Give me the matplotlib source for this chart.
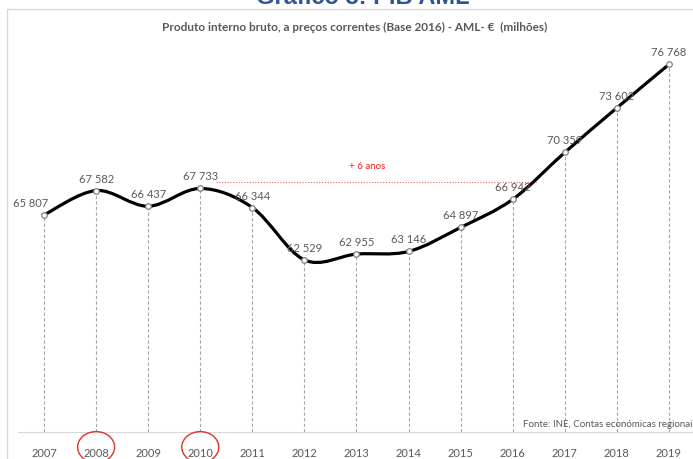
import matplotlib
matplotlib.use("Agg")
import matplotlib.pyplot as plt
from matplotlib.path import Path
from matplotlib.patches import PathPatch, Rectangle, Ellipse
from matplotlib.transforms import ScaledTranslation

plt.rcParams["font.family"] = ["Lato", "DejaVu Sans"]

YEARS = [2007, 2008, 2009, 2010, 2011, 2012, 2013, 2014, 2015, 2016, 2017, 2018, 2019]
PIB = [65807, 67582, 66437, 67733, 66344, 62529, 62955, 63146, 64897, 66942, 70359, 73602, 76768]
LABELS = ["65 807", "67 582", "66 437", "67 733", "66 344", "62 529", "62 955",
          "63 146", "64 897", "66 942", "70 359", "73 602", "76 768"]
CIRCLED = [2008, 2010]
TITLE = "Produto interno bruto, a preços correntes (Base 2016) - AML- \u20ac  (milhões)"
HEADER = "Gráfico 8: PIB AML"
SOURCE = "Fonte: INE, Contas económicas regionais"
NOTE = "+ 6 anos"

GREY = "#595959"
W, H = 693, 460
fig = plt.figure(figsize=(W / 100, H / 100), dpi=100)

# chart frame (Excel style) and the cropped heading above it
fig.patches.append(Rectangle((7 / W, -0.1), 1.0, (H - 10) / H + 0.1, transform=fig.transFigure,
                             fill=False, edgecolor="#d9d9d9", lw=1.0))
fig.text(363 / W, 1 - 4 / H, HEADER, ha="center", va="baseline", fontsize=17,
         fontweight="bold", color="#2f5597", family=["Liberation Sans", "DejaVu Sans"])
fig.text(355 / W, 1 - 27 / H, TITLE, ha="center", va="center", fontsize=8.5,
         color=GREY, fontweight="bold")

ax = fig.add_axes([18 / W, 27 / H, 677 / W, 412 / H])
ax.set_xlim(2006.5, 2019.5)
ax.set_ylim(50000, 80000)
for s in ["left", "right", "top"]:
    ax.spines[s].set_visible(False)
ax.spines["bottom"].set_color("#d9d9d9")
ax.set_yticks([])
ax.set_xticks(YEARS)
ax.set_xticklabels([str(y) for y in YEARS], color=GREY, fontsize=8)
ax.tick_params(axis="x", length=0, pad=11)

# red hand-drawn style ellipses round two year labels
for y in CIRCLED:
    tr = fig.dpi_scale_trans + ScaledTranslation(y, 48900, ax.transData)
    e = Ellipse((0, 0), 0.37, 0.31, transform=tr, fill=False, ec="#e03030", lw=1.0)
    e.set_clip_on(False)
    fig.patches.append(e)

# drop lines
ax.vlines(YEARS, 50000, PIB, colors="#a6a6a6", linestyles=(0, (3, 2)), lw=0.8, zorder=1)

# smoothed line (Bezier segments through the data points)
verts = [(YEARS[0], PIB[0])]
codes = [Path.MOVETO]
n = len(YEARS)
for i in range(n - 1):
    p0 = (YEARS[max(i - 1, 0)], PIB[max(i - 1, 0)])
    p1 = (YEARS[i], PIB[i])
    p2 = (YEARS[i + 1], PIB[i + 1])
    p3 = (YEARS[min(i + 2, n - 1)], PIB[min(i + 2, n - 1)])
    c1 = (p1[0] + (p2[0] - p0[0]) / 6, p1[1] + (p2[1] - p0[1]) / 6)
    c2 = (p2[0] - (p3[0] - p1[0]) / 6, p2[1] - (p3[1] - p1[1]) / 6)
    verts += [c1, c2, p2]
    codes += [Path.CURVE4] * 3
ax.add_patch(PathPatch(Path(verts, codes), fc="none", ec="black", lw=2.3,
                       capstyle="round", zorder=3))
ax.plot(YEARS, PIB, "o", ms=4, mfc="white", mec="#7f7f7f", mew=0.9, zorder=4)

for i, (x, y, t) in enumerate(zip(YEARS, PIB, LABELS)):
    dx = -10 if i == 0 else 0
    ax.annotate(t, (x, y), xytext=(dx, 9), textcoords="offset points",
                ha="center", va="center", fontsize=8, color=GREY, zorder=5)

# "+ 6 anos" reference line
ax.hlines(68200, 2010.3, 2016.45, colors="#e06060", linestyles=(0, (1, 1.5)), lw=0.8, zorder=2)
ax.text(2013.2, 69400, NOTE, ha="center", va="center", fontsize=7, color="#ff2020")

ax.text(2016.2, 50650, SOURCE, ha="left", va="center", fontsize=7, color=GREY, clip_on=False)

fig.savefig("out.png", dpi=100)
